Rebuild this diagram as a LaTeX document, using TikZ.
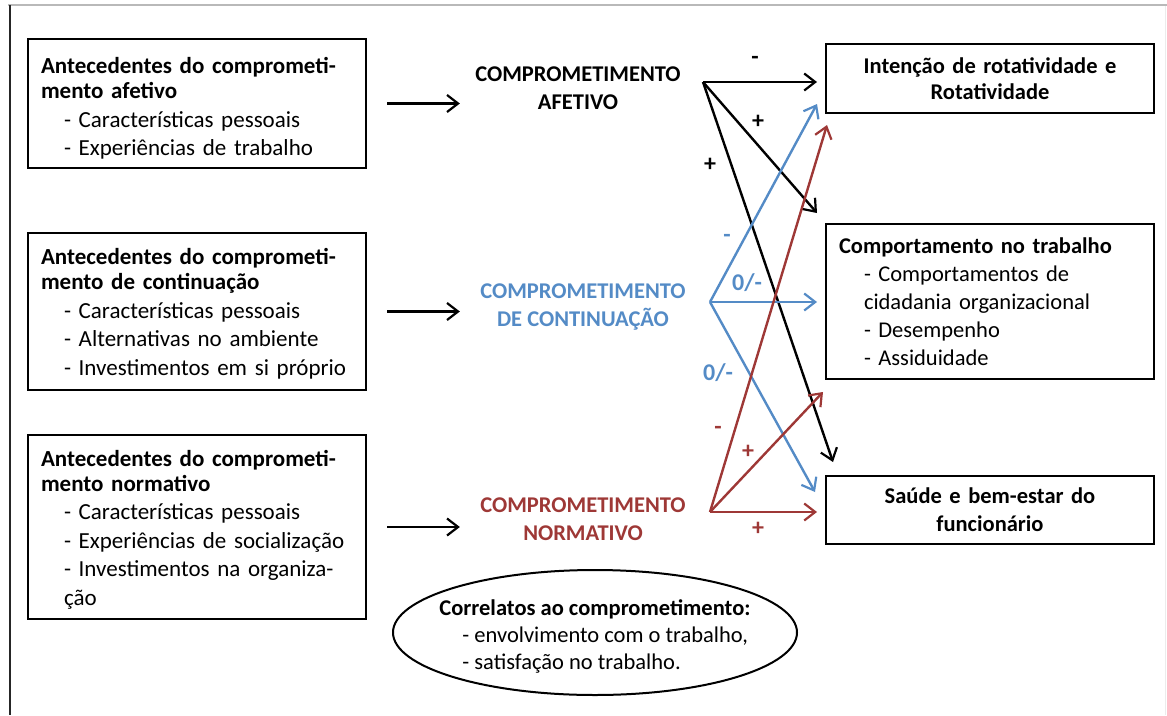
\documentclass[tikz,border=0pt]{standalone}
\usepackage{fontspec}
\setmainfont{Carlito}
\usetikzlibrary{arrows.meta,shapes.geometric}
\definecolor{contblue}{RGB}{84,139,198}
\definecolor{normred}{RGB}{158,56,54}
\newcommand{\itm}{\hspace*{23pt}- }

\begin{document}
\begin{tikzpicture}[x=1pt,y=-1pt,
    every node/.style={font=\fontsize{23}{28.5}\selectfont},
    antbox/.style={draw, line width=2pt, anchor=north west, minimum width=338pt,
        text width=312pt, inner xsep=13pt, inner ysep=0pt, align=left},
    outbox/.style={draw, line width=2pt, anchor=north west, minimum width=328pt,
        text width=302pt, inner xsep=13pt, inner ysep=0pt},
    cmt/.style={font=\fontsize{22.5}{28}\selectfont\bfseries, align=center},
    sgn/.style={font=\fontsize{24}{28}\selectfont\bfseries, inner sep=0pt},
    arr/.style={-{Straight Barb[length=11pt,width=17pt,line width=2.2pt]}, line width=2.4pt}]
\useasboundingbox (0,0) rectangle (1167,715);

% frame of the screenshot
\draw[gray!55, line width=2pt] (8,5) -- (1167,5);
\draw[black!85, line width=2.5pt] (10,5) -- (10,715);
\draw[gray!15, line width=1pt] (1165,6) -- (1165,715);

% antecedents
\node[antbox, minimum height=129pt] (ant1) at (27,38)
    {\rule{0pt}{26pt}\textbf{Antecedentes do comprometi-}\\[-3.5pt]\textbf{mento afetivo}\\
     \itm Características pessoais\\ \itm Experiências de trabalho};
\node[antbox, minimum height=157pt] (ant2) at (27,232)
    {\rule{0pt}{21pt}\textbf{Antecedentes do comprometi-}\\[-3.5pt]\textbf{mento de continuação}\\
     \itm Características pessoais\\ \itm Alternativas no ambiente\\
     \itm Investimentos em si próprio};
\node[antbox, minimum height=184pt] (ant3) at (27,434)
    {\rule{0pt}{21pt}\textbf{Antecedentes do comprometi-}\\[-3.5pt]\textbf{mento normativo}\\
     \itm Características pessoais\\ \itm Experiências de socialização\\
     \itm Investimentos na organiza-\\ \hspace*{23pt}ção};

% kinds of commitment
\node[cmt] (aff) at (578,88) {COMPROMETIMENTO\\AFETIVO};
\node[cmt, text=contblue] (cont) at (583,307) {COMPROMETIMENTO\\DE CONTINUAÇÃO};
\node[cmt, text=normred] (norm) at (583,519) {COMPROMETIMENTO\\NORMATIVO};

% consequences
\node[outbox, minimum height=69pt, align=center, font=\fontsize{22.5}{26}\selectfont\bfseries] (rot) at (825,43)
    {Intenção de rotatividade e\\Rotatividade};
\node[outbox, minimum height=155pt, align=left, font=\fontsize{22.5}{28}\selectfont] (beh) at (825,223)
    {\textbf{Comportamento no trabalho}\\
     \hspace*{25pt}- Comportamentos de\\ \hspace*{25pt}cidadania organizacional\\
     \hspace*{25pt}- Desempenho\\ \hspace*{25pt}- Assiduidade};
\node[outbox, minimum height=68pt, align=center, font=\fontsize{22.5}{28}\selectfont\bfseries] (hlth) at (825,475)
    {Saúde e bem-estar do\\funcionário};

% correlates
\draw[line width=2pt] (393,632.5) .. controls (393,598) and (483.4,570) .. (595,570)
    .. controls (706.6,570) and (797,598) .. (797,632.5)
    .. controls (797,667) and (706.6,695) .. (595,695)
    .. controls (483.4,695) and (393,667) .. (393,632.5) -- cycle;
\node[inner sep=0pt, align=left, font=\fontsize{22.5}{27}\selectfont] (corr) at (595,636)
    {\textbf{Correlatos ao comprometimento:}\\ \itm envolvimento com o trabalho,\\
     \itm satisfação no trabalho.};

% antecedents -> commitment
\draw[arr] ([xshift=20pt]ant1.east) -- ([xshift=-12pt]aff.west |- ant1.east);
\draw[arr] ([xshift=20pt]ant2.east) -- ([xshift=-12pt]aff.west |- ant2.east);
\draw[arr] ([xshift=20pt]ant3.east) -- ([xshift=-12pt]aff.west |- ant3.east);

% commitment -> consequences
\coordinate (aff0) at (703,82);
\coordinate (cont0) at (710,302);
\coordinate (norm0) at (710,512);

\draw[arr] (aff0) -- ([xshift=-8pt]rot.west |- aff0);
\draw[arr] (aff0) -- ([shift={(-8pt,10pt)}]beh.north west);
\draw[arr] (aff0) -- ([shift={(8pt,13pt)}]hlth.north west);

\draw[arr, contblue] (cont0) -- ([shift={(-8pt,10pt)}]rot.south west);
\draw[arr, contblue] (cont0) -- ([xshift=-8pt]beh.west |- cont0);
\draw[arr, contblue] (cont0) -- ([shift={(-10pt,-17pt)}]hlth.north west);

\draw[arr, normred] (norm0) -- ([shift={(2pt,-11pt)}]rot.south west);
\draw[arr, normred] (norm0) -- ([shift={(-2pt,-12pt)}]beh.south west);
\draw[arr, normred] (norm0) -- ([xshift=-8pt]hlth.west |- norm0);

% signs
\node[sgn] (s1) at (755,60) {-};
\node[sgn] (s2) at (758,122) {+};
\node[sgn] (s3) at (710,165) {+};
\node[sgn, text=contblue] (s4) at (727,238) {-};
\node[sgn, text=contblue] (s5) at (747,283) {0/-};
\node[sgn, text=contblue] (s6) at (718,373) {0/-};
\node[sgn, text=normred] (s7) at (718,430) {-};
\node[sgn, text=normred] (s8) at (748,452) {+};
\node[sgn, text=normred] (s9) at (758,529) {+};
\end{tikzpicture}
\end{document}
